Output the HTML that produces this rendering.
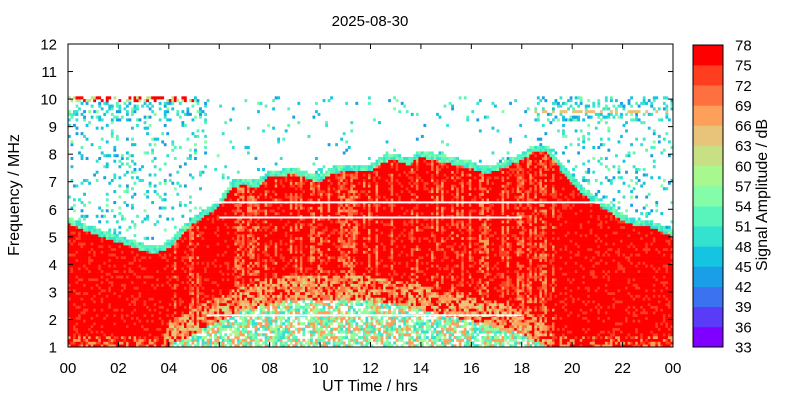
<!DOCTYPE html>
<html><head><meta charset="utf-8">
<style>
body{margin:0;background:#fff;}
svg{display:block;font-family:"Liberation Sans",sans-serif;}
</style></head>
<body>
<svg id="chart" width="800" height="400" viewBox="0 0 800 400">
<rect width="800" height="400" fill="#fff"/>
<text x="370" y="26" font-size="15" text-anchor="middle">2025-08-30</text>
<g id="cells"></g>
<g id="whites"></g>
<rect x="68" y="44" width="605" height="303" fill="none" stroke="#000" stroke-width="1"/>
<g id="axes"></g>
<text x="370" y="391" font-size="16" text-anchor="middle">UT Time / hrs</text>
<text transform="translate(19,195) rotate(-90)" font-size="16" text-anchor="middle">Frequency / MHz</text>
<g id="cbar"></g>
<text transform="translate(767,195) rotate(-90)" font-size="16" text-anchor="middle">Signal Amplitude / dB</text>
</svg>
<script>
// ---- data ----
const hours = [0,0.5,1,1.5,2,2.5,3,3.5,4,4.5,5,5.5,6,6.5,7,7.5,8,8.5,9,9.5,10,10.5,11,11.5,12,12.5,13,13.5,14,14.5,15,15.5,16,16.5,17,17.5,18,18.5,19,19.5,20,20.5,21,21.5,22,22.5,23,23.5,24];
const topFreq = [5.7,5.5,5.3,5.15,5.0,4.85,4.7,4.6,4.8,5.3,5.7,6.0,6.3,7.0,7.1,7.0,7.4,7.4,7.5,7.3,7.2,7.5,7.6,7.6,7.6,7.9,8.0,7.8,8.1,8.0,7.9,7.8,7.7,7.5,7.6,7.8,8.0,8.3,8.3,7.7,7.2,6.7,6.4,6.1,5.8,5.6,5.6,5.4,5.2];
const lowerLayer = [0,0,0,0,0,0,0,0,1.6,1.8,2.0,2.3,2.5,2.7,2.9,3.0,3.1,3.2,3.25,3.3,3.3,3.3,3.3,3.25,3.2,3.15,3.1,3.0,2.9,2.8,2.7,2.6,2.5,2.4,2.3,2.2,2.0,1.8,1.6,0,0,0,0,0,0,0,0,0,0];
const cbTicks = [33,36,39,42,45,48,51,54,57,60,63,66,69,72,75,78];
const cbColors = ["#8000ff","#5a3cf8","#3a72f0","#1a9ee8","#14c4e0","#34e2d0","#58f4bc","#84fca8","#a8f890","#c8e084","#e8c47a","#ffa05a","#ff7040","#ff3e20","#ff0000"];
const xTicks = ["00","02","04","06","08","10","12","14","16","18","20","22","00"];
const yTicks = [1,2,3,4,5,6,7,8,9,10,11,12];
// ---- axes ----
const X0=68,X1=673,Y0=347,Y1=44;
const xs = h => X0 + h/24*(X1-X0);
const ys = f => Y0 - (f-1)/11*(Y0-Y1);
const NS="http://www.w3.org/2000/svg";
function mk(tag,attrs,parent){const e=document.createElementNS(NS,tag);for(const k in attrs)e.setAttribute(k,attrs[k]);parent.appendChild(e);return e;}
function interp(arr,h){const i=Math.min(Math.floor(h/0.5),arr.length-2);const t=(h-hours[i])/0.5;return arr[i]*(1-t)+arr[i+1]*t;}
function colorOf(v){let i=Math.floor((v-33)/3);i=Math.max(0,Math.min(14,i));return cbColors[i];}
function hash(a,b){let n=(a*374761393+b*668265263)|0;n=(n^(n>>>13))*1274126177|0;n=n^(n>>>16);return ((n>>>0)%10000)/10000;}
const cells=document.getElementById('cells');
const DH=0.1, DF=0.1;
for(let ci=0;ci<240;ci++){
  const h=ci*DH+DH/2;
  const top=interp(topFreq,h), low=interp(lowerLayer,h);
  const colN=hash(ci,999);
  const early=(h<5.5||h>18.5);
  for(let fj=0;fj<110;fj++){
    const f=1+fj*DF;
    const r=hash(ci,fj), r2=hash(fj+77,ci*3);
    let v=null;
    if(f<top-0.25){
      const day=low>0;
      v = r<0.82 ? 77 : 74;
      if(day){
        if(colN>0.6 && r<0.45) v=r<0.2?68:71;
        if(f<low+0.3 && f>low-0.6){v = r<0.3 ? 76 : 58+r*14;}
        else if(f<=low-0.6){ v = r2<0.5 ? 48+r*12 : (r2<0.72 ? 68 : null); }
      } else if(f<1.4 && r<0.3){v=66;}
    } else if(f<top){
      v=55-r*6;
    } else if(f<10.05){
      let p=early?(f>9.2?0.3:0.13):(f>9.3?0.06:0.03);
      if(r2<p) v=43+r*12;
      if(early && h<5 && f>9.85 && r2<0.6) v=r<0.5?76:62;
      if(early && h>18.5 && f>9.4 && f<9.6 && r2<0.4) v=64;
    }
    if(v===null) continue;
    const el=mk('rect',{x:xs(h-DH/2).toFixed(2),y:ys(f+DF).toFixed(2),width:(xs(DH)-X0+0.3).toFixed(2),height:(ys(1)-ys(1+DF)+0.3).toFixed(2),fill:colorOf(v)},cells);
    
    
  }
}
const whites=document.getElementById('whites');
[[5.5,21.5,6.25],[6,18,5.7],[5.5,18,2.15]].forEach(w=>{
  const l=mk('line',{x1:xs(w[0]),x2:xs(w[1]),y1:ys(w[2]),y2:ys(w[2]),stroke:'#fff','stroke-width':2},whites);
  
  
});
const axes=document.getElementById('axes');
xTicks.forEach((t,i)=>{
  const x=xs(i*2);
  mk('line',{x1:x,x2:x,y1:Y0,y2:Y0-5,stroke:'#000'},axes);
  mk('line',{x1:x,x2:x,y1:Y1,y2:Y1+5,stroke:'#000'},axes);
  const tx=mk('text',{x:x,y:373,'font-size':15,'text-anchor':'middle'},axes);
  tx.textContent=t;
  
  
});
yTicks.forEach(t=>{
  const y=ys(t);
  mk('line',{x1:X0,x2:X0+5,y1:y,y2:y,stroke:'#000'},axes);
  mk('line',{x1:X1,x2:X1-5,y1:y,y2:y,stroke:'#000'},axes);
  const tx=mk('text',{x:57,y:y+5.5,'font-size':15,'text-anchor':'end'},axes);
  tx.textContent=t;
  
  
});
const cbar=document.getElementById('cbar');
const CB0=347,CB1=45,bh=(CB0-CB1)/15;
cbColors.forEach((c,i)=>{
  const r=mk('rect',{x:693,y:CB0-(i+1)*bh,width:30,height:bh+0.3,fill:c},cbar);
  
  
});
mk('rect',{x:693,y:CB1,width:30,height:CB0-CB1,fill:'none',stroke:'#000'},cbar);
cbTicks.forEach((t,i)=>{
  const tx=mk('text',{x:735,y:CB0-i*bh+5.5,'font-size':15},cbar);
  tx.textContent=t;
  
  
});
</script>
</body></html>
